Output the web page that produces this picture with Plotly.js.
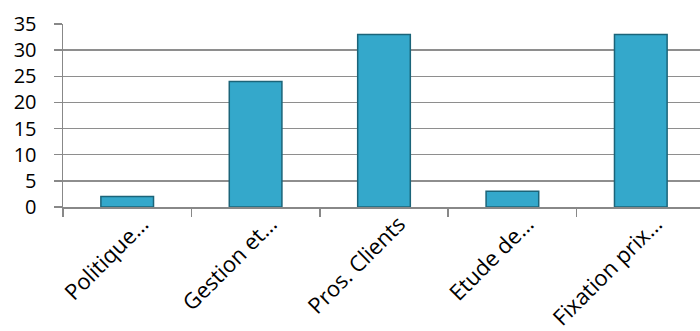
<!DOCTYPE html>
<html>
<head>
<meta charset="utf-8">
<script src="https://cdn.plot.ly/plotly-3.0.1.min.js"></script>
<style>
html,body{margin:0;padding:0;overflow:hidden;background:#fff;}
#chart{width:705px;height:331px;}
</style>
</head>
<body>
<div id="chart"></div>
<script>
const categories = ["Politique…", "Gestion et…", "Pros. Clients", "Etude de…", "Fixation prix…"];
const values = [2, 24, 33, 3, 33];
const yTicks = [0, 5, 10, 15, 20, 25, 30, 35];

const trace = {
  type: "bar",
  x: categories,
  y: values,
  marker: {
    color: "#34A8CB",
    line: {color: "#1B6479", width: 1.5}
  },
  hoverinfo: "x+y"
};

const FONT = "Open Sans, Liberation Sans, sans-serif";

const layout = {
  width: 705,
  height: 331,
  margin: {l: 63, r: 0, t: 24, b: 124},
  paper_bgcolor: "#ffffff",
  plot_bgcolor: "#ffffff",
  showlegend: false,
  bargap: 0.59,
  font: {family: FONT, color: "#000000"},
  xaxis: {
    type: "category",
    tickangle: -45,
    tickson: "boundaries",
    ticks: "outside",
    ticklen: 8,
    tickcolor: "#888888",
    tickwidth: 1.5,
    ticklabelshift: 15,
    ticklabelstandoff: -6,
    showgrid: false,
    showline: true,
    linecolor: "#888888",
    linewidth: 1.5,
    tickfont: {size: 22, family: FONT, color: "#000"},
    fixedrange: true
  },
  yaxis: {
    range: [0, 35],
    tickvals: yTicks,
    ticktext: yTicks.map(String),
    ticks: "outside",
    ticklen: 8,
    tickcolor: "#888888",
    tickwidth: 1.5,
    ticklabelstandoff: 13,
    showgrid: true,
    gridcolor: "#8e8e8e",
    gridwidth: 1.5,
    showline: true,
    linecolor: "#888888",
    linewidth: 1.5,
    zeroline: false,
    tickfont: {size: 20, family: FONT, color: "#000"},
    fixedrange: true
  }
};

Plotly.newPlot("chart", [trace], layout, {displayModeBar: false, staticPlot: true});
</script>
</body>
</html>
